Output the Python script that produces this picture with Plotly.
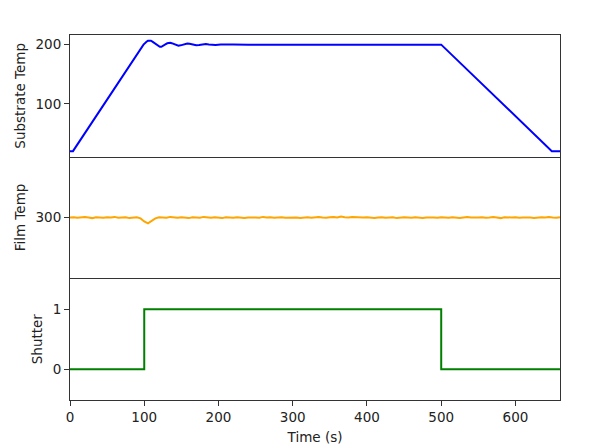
import plotly.graph_objects as go
from plotly.subplots import make_subplots

# Substrate temperature (key points)
sub_time = [0, 4, 99, 101, 103, 105, 107, 109, 111, 113, 115, 117, 119, 121, 123, 125, 127, 129, 131, 133, 135, 137, 139, 141,
            143, 146, 149, 152, 155, 158, 161, 164, 167, 170, 174, 177, 180, 183, 187, 190, 196, 203, 210, 220, 240, 260, 500, 649, 660]
sub_temp = [20, 20, 200, 202.8, 205, 206.5, 207, 206.6, 205.2, 203.2, 201, 198.9, 197.2, 196.3, 196.4, 197.4, 199, 200.8, 202.3, 203.1, 203.2, 202.5, 201.3, 200,
            198.9, 198.3, 198.8, 200.1, 201.4, 201.9, 201.5, 200.5, 199.5, 199, 199.3, 200.2, 200.9, 201, 200.4, 199.8, 199.6, 200.3, 199.8, 200.2, 200, 200, 200, 20, 20]

# Film temperature, sampled every 5 s
film_time = list(range(0, 661, 5))
film_temp = [
    300.0, 300.1, 299.9, 300.0, 300.2, 300.0, 299.8, 300.1, 300.0, 299.9,
    300.1, 300.0, 300.2, 299.9, 300.0, 300.1, 299.8, 300.0, 300.1, 299.7,
    298.7, 298.1, 298.8, 299.7, 300.1, 300.0, 299.9, 300.2, 300.0, 299.9,
    300.1, 300.0, 299.8, 300.1, 300.0, 299.9, 300.2, 300.0, 299.9, 300.1,
    300.0, 299.8, 300.1, 300.0, 299.9, 300.1, 300.0, 299.8, 300.0, 300.1,
    300.0, 299.9, 300.2, 300.0, 300.1, 299.9, 300.0, 300.1, 299.9, 300.0,
    300.1, 300.0, 299.8, 300.0, 300.1, 299.9, 300.0, 300.2, 300.0, 299.9,
    300.1, 300.2, 300.0, 300.3, 300.1, 300.0, 300.2, 300.1, 299.9, 300.0,
    300.1, 300.0, 299.8, 300.0, 300.1, 299.9, 300.0, 300.1, 299.8, 300.0,
    300.1, 300.0, 299.9, 300.1, 300.0, 299.8, 300.0, 300.1, 300.0, 299.9,
    300.1, 300.0, 299.9, 300.1, 300.0, 299.8, 300.0, 300.2, 300.0, 299.9,
    300.0, 300.1, 299.9, 300.0, 300.2, 300.0, 299.8, 300.1, 300.0, 300.0,
    300.1, 299.9, 300.0, 300.1, 300.0, 299.8, 300.0, 300.1, 300.0, 300.2,
    300.0, 299.9, 300.1,
]

# Shutter state
shut_time = [0, 100, 100, 500, 500, 660]
shut_state = [0, 0, 1, 1, 0, 0]

y_titles = ["Substrate Temp", "Film Temp", "Shutter"]
x_ticks = [0, 100, 200, 300, 400, 500, 600]

fig = make_subplots(rows=3, cols=1, shared_xaxes=True, vertical_spacing=0)
fig.add_trace(go.Scatter(x=sub_time, y=sub_temp, mode="lines",
                         line=dict(color="#0000ff", width=2)), row=1, col=1)
fig.add_trace(go.Scatter(x=film_time, y=film_temp, mode="lines",
                         line=dict(color="#ffa500", width=2)), row=2, col=1)
fig.add_trace(go.Scatter(x=shut_time, y=shut_state, mode="lines",
                         line=dict(color="#008000", width=2)), row=3, col=1)

font = dict(family="DejaVu Sans", size=13.5, color="#222")
axis_common = dict(showline=True, linecolor="#333", linewidth=1,
                   showgrid=False, zeroline=False, tickfont=font, automargin=False,
                   ticks="outside", ticklen=5, tickwidth=1, tickcolor="#333")

fig.update_xaxes(range=[0, 660], tickvals=x_ticks, **axis_common)
fig.update_xaxes(mirror=True, ticks="", showticklabels=False, row=1, col=1)
fig.update_xaxes(mirror=False, ticks="", showticklabels=False, row=2, col=1)
fig.update_xaxes(mirror=False, title=dict(text="Time (s)", font=font, standoff=8), row=3, col=1)

fig.update_yaxes(mirror=True, **axis_common)
fig.update_yaxes(range=[10.7, 216.3], tickvals=[100, 200],
                 title=dict(text=y_titles[0], font=font, standoff=6), row=1, col=1)
fig.update_yaxes(range=[280, 320], tickvals=[300],
                 title=dict(text=y_titles[1], font=font, standoff=6), row=2, col=1)
fig.update_yaxes(range=[-0.515, 1.515], tickvals=[0, 1],
                 title=dict(text=y_titles[2], font=font, standoff=6), row=3, col=1)

# page body has an 8px margin, so the figure is 8px smaller than the window
fig.update_layout(width=592, height=440, showlegend=False,
                  margin=dict(l=61.5, r=40, t=27, b=48),
                  plot_bgcolor="white", paper_bgcolor="white",
                  font=font)
fig.write_html("out.html")
